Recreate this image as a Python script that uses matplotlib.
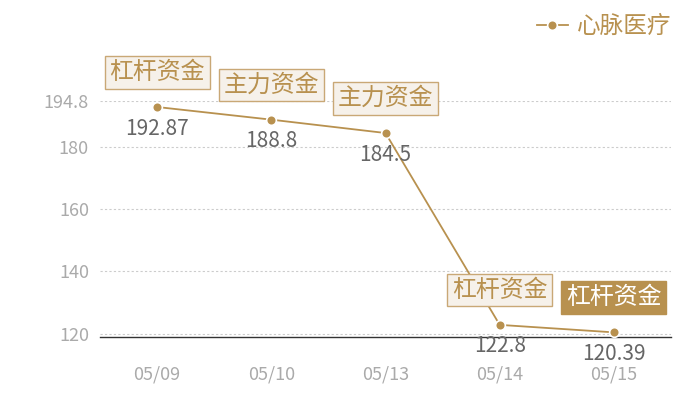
import matplotlib
matplotlib.use("Agg")
import matplotlib.pyplot as plt
from matplotlib.lines import Line2D

plt.rcParams['font.family'] = ['Noto Sans CJK SC', 'DejaVu Sans']

dates = ['05/09', '05/10', '05/13', '05/14', '05/15']
prices = [192.87, 188.8, 184.5, 122.8, 120.39]
value_labels = ['192.87', '188.8', '184.5', '122.8', '120.39']
tags = ['杠杆资金', '主力资金', '主力资金', '杠杆资金', '杠杆资金']
tag_filled = [False, False, False, False, True]
yticks = [120, 140, 160, 180, 194.8]
ytick_labels = ['120', '140', '160', '180', '194.8']
series_name = '心脉医疗'

GOLD = '#b8914f'
fig = plt.figure(figsize=(7, 4), dpi=100)
ax = fig.add_axes([100/700, 1-337/400, 571/700, 236/400])

x = list(range(len(dates)))
ax.plot(x, prices, color=GOLD, lw=1.3, marker='o', ms=7, mfc=GOLD, mec='white', mew=1.2, zorder=3, clip_on=False)

ax.set_xlim(-0.5, len(dates) - 0.5)
ax.set_ylim(118.9, 194.8)
ax.set_yticks(yticks)
ax.set_yticklabels(ytick_labels)
ax.set_xticks(x)
ax.set_xticklabels(dates)
ax.tick_params(axis='both', length=0, labelsize=13, colors='#aaaaaa')
ax.tick_params(axis='x', pad=20.5)
ax.tick_params(axis='y', pad=8)
for s in ['top', 'right', 'left']:
    ax.spines[s].set_visible(False)
ax.spines['bottom'].set_color('#333333')
ax.spines['bottom'].set_linewidth(1)
for t in yticks:
    ax.axhline(t, color='#cccccc', lw=0.8, ls=(0, (2, 2)), zorder=1)

for xi, p, vl, tg, filled in zip(x, prices, value_labels, tags, tag_filled):
    ax.annotate(vl, (xi, p), xytext=(0, -15.5), textcoords='offset points',
                ha='center', va='center', fontsize=15, color='#666666', zorder=4)
    if filled:
        bb = dict(boxstyle='square,pad=0.2', fc=GOLD, ec=GOLD, lw=1)
        tc = 'white'
    else:
        bb = dict(boxstyle='square,pad=0.2', fc='#f6f1ea', ec='#c9a876', lw=1)
        tc = GOLD
    ax.annotate(tg, (xi, p), xytext=(0, 25), textcoords='offset points',
                ha='center', va='center', fontsize=17.2, color=tc, bbox=bb, zorder=5)

handle = Line2D([0], [0], color=GOLD, lw=1.3, marker='o', ms=7, mfc=GOLD, mec='white', mew=1.2)
leg = fig.legend([handle], [series_name], loc='upper right', bbox_to_anchor=(0.99, 1.015),
                 frameon=False, fontsize=17, handlelength=1.3, handletextpad=0.4)
for t in leg.get_texts():
    t.set_color(GOLD)

fig.savefig('out.png', dpi=100)
